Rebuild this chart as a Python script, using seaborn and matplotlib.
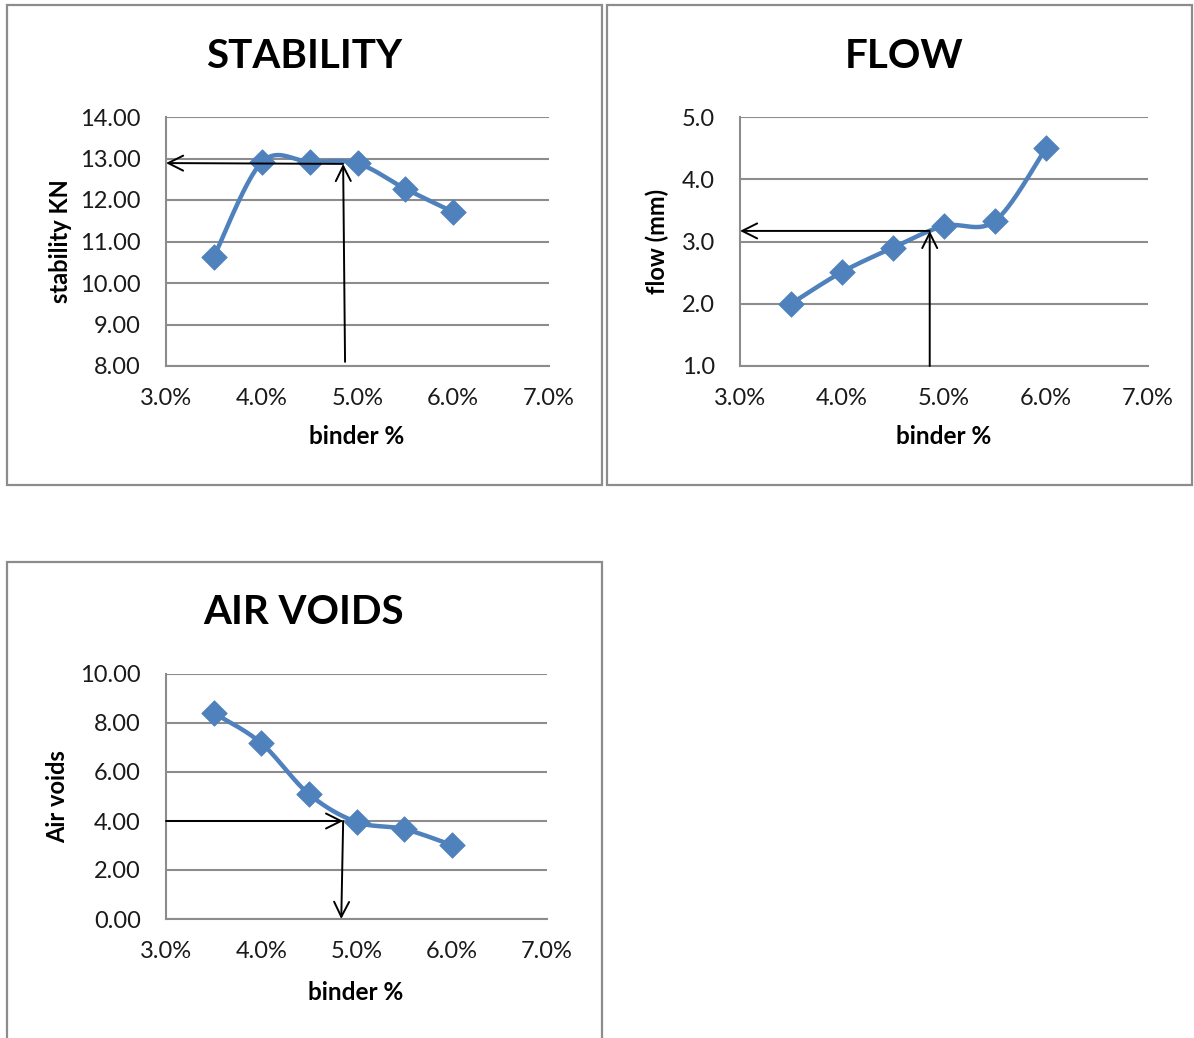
import numpy as np
import pandas as pd
import matplotlib
matplotlib.use("Agg")
import matplotlib.pyplot as plt
from matplotlib.patches import Rectangle
from matplotlib.ticker import FuncFormatter, MultipleLocator
import seaborn as sns

# Marshall mix design results
binder = [3.5, 4.0, 4.5, 5.0, 5.5, 6.0]            # binder content, %
stability = [10.63, 12.91, 12.92, 12.88, 12.27, 11.71]  # kN
flow = [2.00, 2.51, 2.90, 3.25, 3.33, 4.50]          # mm
air_voids = [8.41, 7.18, 5.10, 3.96, 3.67, 3.02]     # %

# optimum binder readings (binder %, property value)
opt_stability = (4.85, 12.87)
opt_flow = (4.86, 3.17)
opt_air = (4.86, 4.00)

sns.set_theme(style="white")
plt.rcParams["font.family"] = ["Lato", "DejaVu Sans"]

BLUE = "#4F81BD"
GRID = "#8C8C8C"

fig = plt.figure(figsize=(11.94, 10.38), dpi=100)
W, H = 1194, 1038


def px_axes(left, top, right, bottom):
    return fig.add_axes([left / W, 1 - bottom / H, (right - left) / W, (bottom - top) / H])


def smooth(ax, xs, ys, n=40):
    """Excel-style smoothed line (Catmull-Rom as cubic Bezier) in screen space."""
    pts = ax.transData.transform(np.column_stack([xs, ys]))
    P = np.vstack([pts[0], pts, pts[-1]])
    out = []
    t = np.linspace(0, 1, n)[:, None]
    for i in range(1, len(P) - 2):
        p0, p3 = P[i], P[i + 1]
        c1 = p0 + (P[i + 1] - P[i - 1]) / 6
        c2 = p3 - (P[i + 2] - P[i]) / 6
        seg = ((1 - t) ** 3) * p0 + 3 * ((1 - t) ** 2) * t * c1 + 3 * (1 - t) * t ** 2 * c2 + t ** 3 * p3
        out.append(seg if i == 1 else seg[1:])
    out = np.vstack(out)
    return ax.transData.inverted().transform(out)


def panel(ax, y, ylim, ystep, yfmt, title, ylabel, tx, ty, ylx, xlx, xly):
    ax.set_xlim(3.0, 7.0)
    ax.set_ylim(*ylim)
    ax.xaxis.set_major_locator(MultipleLocator(1.0))
    ax.yaxis.set_major_locator(MultipleLocator(ystep))
    ax.xaxis.set_major_formatter(FuncFormatter(lambda v, p: f"{v:.1f}%"))
    ax.yaxis.set_major_formatter(FuncFormatter(lambda v, p: yfmt.format(v)))
    ax.grid(axis="y", color=GRID, linewidth=1.5)
    ax.set_axisbelow(True)
    for s in ["top", "right"]:
        ax.spines[s].set_visible(False)
    for s in ["left", "bottom"]:
        ax.spines[s].set_color(GRID)
        ax.spines[s].set_linewidth(1.5)
    ax.tick_params(axis="both", length=0, labelsize=17, colors="#1a1a1a")
    ax.tick_params(axis="y", pad=18)
    ax.tick_params(axis="x", pad=16)

    fig.canvas.draw()
    curve = smooth(ax, binder, y)
    cdf = pd.DataFrame({"binder": curve[:, 0], "value": curve[:, 1]})
    sns.lineplot(data=cdf, x="binder", y="value", sort=False, color=BLUE,
                 linewidth=3.2, ax=ax, zorder=3)
    sns.scatterplot(x=binder, y=y, marker="D", s=170, color=BLUE,
                    edgecolor=BLUE, linewidth=0.5, ax=ax, zorder=4)
    ax.set_xlabel("")
    ax.set_ylabel("")

    fig.text(tx / W, 1 - ty / H, title, ha="center", va="center",
             fontsize=29, fontweight="bold", color="black")
    fig.text(ylx / W, 1 - (ty + 184) / H, ylabel, rotation=90, ha="center", va="center",
             fontsize=17, fontweight="bold", color="black")
    fig.text(xlx / W, 1 - xly / H, "binder %", ha="center", va="center",
             fontsize=17.5, fontweight="bold", color="black")


def arrow(ax, start, end):
    ax.annotate("", xy=end, xytext=start,
                arrowprops=dict(arrowstyle="->,head_length=0.9,head_width=0.45",
                                color="black", lw=1.4, shrinkA=0, shrinkB=0),
                zorder=5, annotation_clip=False)


# panel frames
for (x0, y0, x1, y1) in [(7, 5, 602, 485), (607, 5, 1192, 485), (7, 562, 602, 1045)]:
    fig.patches.append(Rectangle((x0 / W, 1 - y1 / H), (x1 - x0) / W, (y1 - y0) / H,
                                 transform=fig.transFigure, fill=False,
                                 edgecolor="#8C8C8C", linewidth=1.6))

# STABILITY
ax1 = px_axes(166, 117, 549, 366)
panel(ax1, stability, (8, 14), 1, "{:.2f}", "STABILITY", "stability KN", 304, 57, 60, 357, 436)
arrow(ax1, (opt_stability[0] + 0.02, 8.1), opt_stability)
arrow(ax1, opt_stability, (3.0, opt_stability[1] + 0.02))

# FLOW
ax2 = px_axes(740, 117, 1148, 366)
panel(ax2, flow, (1, 5), 1, "{:.1f}", "FLOW", "flow (mm)", 904, 57, 657, 944, 436)
arrow(ax2, (opt_flow[0], 1.0), opt_flow)
arrow(ax2, opt_flow, (3.0, opt_flow[1]))

# AIR VOIDS
ax3 = px_axes(166, 674, 547, 919)
panel(ax3, air_voids, (0, 10), 2, "{:.2f}", "AIR VOIDS", "Air voids", 304, 613, 58, 356, 993)
arrow(ax3, (3.0, opt_air[1]), opt_air)
arrow(ax3, opt_air, (opt_air[0] - 0.02, 0.0))

fig.savefig("out.png", dpi=100, facecolor="white")
